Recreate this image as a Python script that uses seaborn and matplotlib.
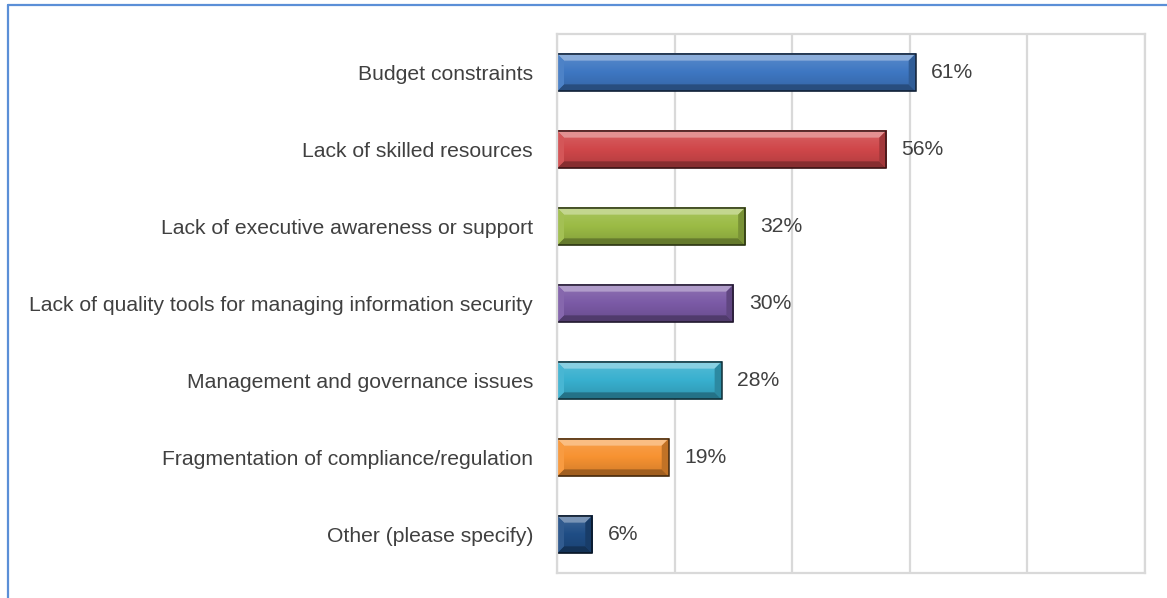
import numpy as np
import pandas as pd
import matplotlib
matplotlib.use("Agg")
import matplotlib.pyplot as plt
from matplotlib.patches import Polygon, Rectangle
from matplotlib.lines import Line2D
from matplotlib.colors import to_rgb
import seaborn as sns

# Survey results: obstacles to information security programs
categories = [
    "Budget constraints ",
    "Lack of skilled resources ",
    "Lack of executive awareness or support ",
    "Lack of quality tools for managing information security ",
    "Management and governance issues ",
    "Fragmentation of compliance/regulation ",
    "Other (please specify) ",
]
values = [61, 56, 32, 30, 28, 19, 6]
bar_colors = ["#3e77c2", "#d0474a", "#9bbb45", "#7b5aa6", "#38b0cf", "#f79231", "#1f4d85"]
x_ticks = [0, 20, 40, 60, 80, 100]

df = pd.DataFrame({"category": categories, "value": values})

sns.set_theme(style="white")
plt.rcParams["font.family"] = ["Liberation Sans", "DejaVu Sans"]

W, H, DPI = 1167, 598, 100
FS = 15.2
fig = plt.figure(figsize=(W / DPI, H / DPI), dpi=DPI)
ax = fig.add_axes([557 / W, 1 - 573 / H, (1145 - 557) / W, (573 - 34) / H])

sns.barplot(data=df, x="value", y="category", hue="category", palette=bar_colors,
            legend=False, width=0.49, edgecolor="none", linewidth=0, ax=ax,
            saturation=1)

ax.set_xlim(0, 100)
ax.set_xticks(x_ticks)
ax.set_xticklabels([])
ax.tick_params(axis="x", length=0)
ax.tick_params(axis="y", length=0, pad=13, labelsize=FS, labelcolor="#404040")
ax.set_xlabel("")
ax.set_ylabel("")
ax.xaxis.grid(True, color="#d9d9d9", linewidth=1.6)
ax.set_axisbelow(True)
for sp in ax.spines.values():
    sp.set_color("#d9d9d9")
    sp.set_linewidth(1.6)
    sp.set_visible(True)


def mix(c, other, t):
    c = np.array(to_rgb(c))
    o = np.array(to_rgb(other))
    return tuple(c * (1 - t) + o * t)


# Bevelled look on every bar
px_x = ax.bbox.width / (ax.get_xlim()[1] - ax.get_xlim()[0])
ylim = ax.get_ylim()
px_y = ax.bbox.height / abs(ylim[1] - ylim[0])
bx = 7 / px_x
by = 7 / px_y

for patch, col in zip(ax.patches, bar_colors):
    x0, y0 = patch.get_x(), patch.get_y()
    w, h = patch.get_width(), patch.get_height()
    x1 = x0 + w
    yt, yb = y0, y0 + h  # yt is drawn on top (inverted axis)
    # soft vertical gradient on the face
    n = 40
    t = np.linspace(0, 1, n)
    shade = np.array([mix(col, "white", 0.15 * (1 - 2 * tt)) if tt < 0.5
                      else mix(col, "black", 0.15 * (tt - 0.5) * 2) for tt in t])
    ax.imshow(shade.reshape(n, 1, 3), extent=(x0, x1, yb, yt), origin="upper",
              aspect="auto", zorder=2.1, interpolation="bilinear")
    bxx = min(bx, w / 2)
    polys = [
        ([(x0, yt), (x1, yt), (x1 - bxx, yt + by), (x0 + bxx, yt + by)], mix(col, "white", 0.4)),
        ([(x0, yb), (x1, yb), (x1 - bxx, yb - by), (x0 + bxx, yb - by)], mix(col, "black", 0.35)),
        ([(x0, yt), (x0 + bxx, yt + by), (x0 + bxx, yb - by), (x0, yb)], mix(col, "white", 0.08)),
        ([(x1, yt), (x1 - bxx, yt + by), (x1 - bxx, yb - by), (x1, yb)], mix(col, "black", 0.22)),
    ]
    for pts, fc in polys:
        ax.add_patch(Polygon(pts, closed=True, facecolor=fc, edgecolor="none", zorder=2.2))
    ax.add_patch(Rectangle((x0, y0), w, h, fill=False, edgecolor=mix(col, "black", 0.75),
                           linewidth=1.1, zorder=2.3))

ax.set_xlim(0, 100)
ax.set_ylim(ylim)

for container in ax.containers:
    ax.bar_label(container, labels=[f"{v:.0f}%" for v in container.datavalues],
                 padding=11, fontsize=FS, color="#404040")

# Outer frame
fig.add_artist(Line2D([7.5 / W, 7.5 / W], [0, 1 - 4.5 / H], color="#5b8fd7", linewidth=1.6))
fig.add_artist(Line2D([7.5 / W, 1], [1 - 4.5 / H, 1 - 4.5 / H], color="#5b8fd7", linewidth=1.6))

fig.savefig("out.png", dpi=DPI)
